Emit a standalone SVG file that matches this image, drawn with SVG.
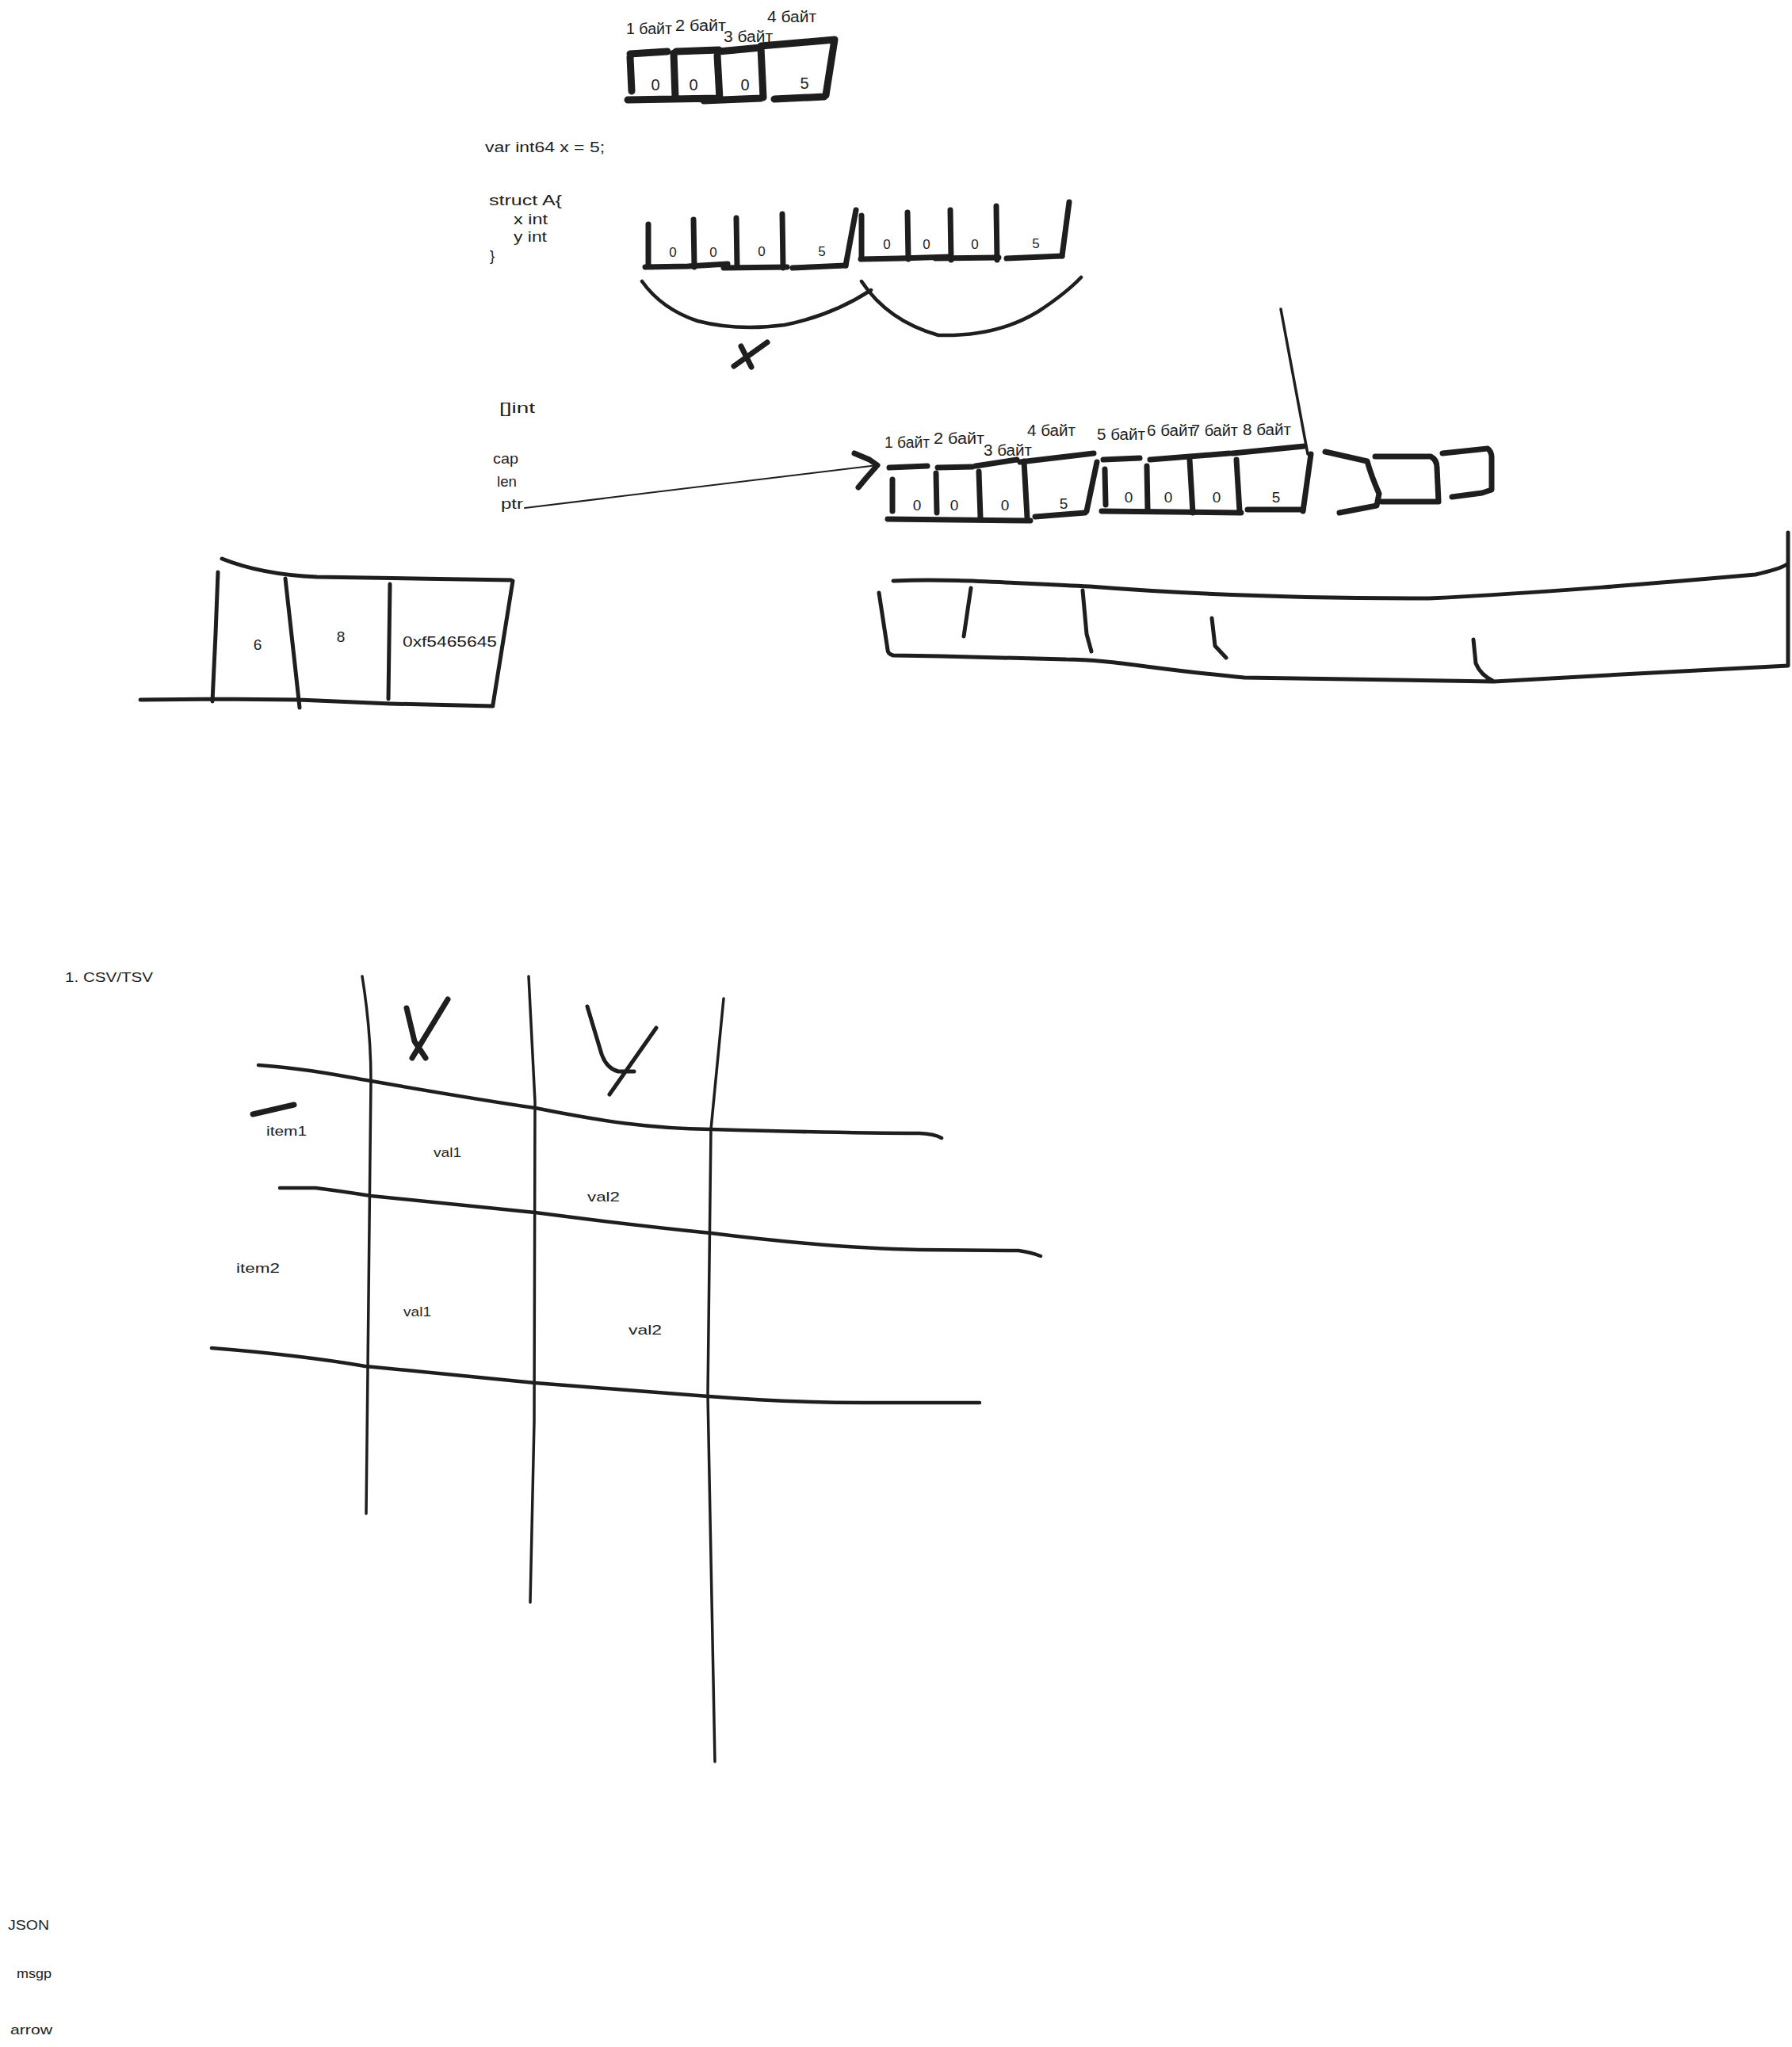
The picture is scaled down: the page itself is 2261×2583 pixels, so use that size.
<svg xmlns="http://www.w3.org/2000/svg" width="2261" height="2583" viewBox="0 0 2261 2583">
<style>
.s{fill:none;stroke:#1e1e1e;stroke-linecap:round;stroke-linejoin:round}
.w8{stroke-width:9}
.w7{stroke-width:7}
.w5{stroke-width:5}
.w4{stroke-width:4.5}
.w3{stroke-width:3.5}
.w2{stroke-width:2}
text{font-family:"Liberation Sans","DejaVu Sans",sans-serif;fill:#1e1e1e}
.lb{font-size:20px}
.cd{font-size:19px}
.n1{font-size:20px;text-anchor:middle}
.n2{font-size:17px;text-anchor:middle}
.n3{font-size:19px;text-anchor:middle}
.g{font-size:17px}
</style>
<rect width="2261" height="2583" fill="#ffffff"/>

<g id="row1-bytes">
<path class="s w8" d="M795,72 L797,115 M795,68 L842,65 M792,126 L848,125 M850,67 L852,123 M853,65 L907,63 M848,125 L907,124 M905,70 L908,125 M907,65 L960,60 M888,127 L960,124 M960,60 L963,123 M960,58 L1053,50 M1053,50 L1042,120 M977,125 L1040,122"/>
<text class="n1" x="827" y="114">0</text>
<text class="n1" x="875" y="114">0</text>
<text class="n1" x="940" y="114">0</text>
<text class="n1" x="1015" y="112">5</text>
<text class="lb" x="790" y="43" textLength="58" lengthAdjust="spacingAndGlyphs">1 байт</text>
<text class="lb" x="852" y="39" textLength="64" lengthAdjust="spacingAndGlyphs">2 байт</text>
<text class="lb" x="913" y="53" textLength="62" lengthAdjust="spacingAndGlyphs">3 байт</text>
<text class="lb" x="968" y="28" textLength="62" lengthAdjust="spacingAndGlyphs">4 байт</text>
</g>

<g id="code">
<text class="cd" x="612" y="192" textLength="151" lengthAdjust="spacingAndGlyphs">var int64 x = 5;</text>
<text class="cd" x="617" y="259" textLength="92" lengthAdjust="spacingAndGlyphs">struct A{</text>
<text class="cd" x="648" y="283" textLength="43" lengthAdjust="spacingAndGlyphs">x int</text>
<text class="cd" x="648" y="305" textLength="42" lengthAdjust="spacingAndGlyphs">y int</text>
<text class="cd" x="618" y="329">}</text>
</g>

<g id="row2-struct">
<path class="s w7" d="M818,283 L818,335 M875,277 L876,337 M929,275 L930,337 M987,270 L988,338 M1080,265 L1067,335 M1087,272 L1087,325 M1145,268 L1146,327 M1199,265 L1200,328 M1257,260 L1258,328 M1349,255 L1340,323"/>
<path class="s w7" d="M814,337 L868,336 L918,333 M913,338 L993,337 M1000,338 L1067,335 M1086,327 L1136,326 L1199,324 M1180,326 L1260,325 M1270,326 L1340,323"/>
<text class="n2" x="849" y="324">0</text>
<text class="n2" x="900" y="324">0</text>
<text class="n2" x="961" y="323">0</text>
<text class="n2" x="1037" y="323">5</text>
<text class="n2" x="1119" y="314">0</text>
<text class="n2" x="1169" y="314">0</text>
<text class="n2" x="1230" y="314">0</text>
<text class="n2" x="1307" y="313">5</text>
</g>

<g id="braces">
<path class="s w4" d="M810,355 Q835,390 880,405 Q930,418 990,410 Q1050,398 1099,366"/>
<path class="s w4" d="M1087,355 Q1120,405 1184,423 Q1258,425 1310,393 Q1345,370 1364,350"/>
<path class="s w7" d="M935,437 L948,463 M926,462 L968,432"/>
</g>

<g id="slice-header">
<text class="cd" x="630" y="521" textLength="45" lengthAdjust="spacingAndGlyphs">[]int</text>
<text class="cd" x="622" y="585" textLength="32" lengthAdjust="spacingAndGlyphs">cap</text>
<text class="cd" x="627" y="614" textLength="25" lengthAdjust="spacingAndGlyphs">len</text>
<text class="cd" x="632" y="642" textLength="28" lengthAdjust="spacingAndGlyphs">ptr</text>
</g>

<g id="row3-array">
<path class="s w7" d="M1122,590 L1170,588 M1183,590 L1227,589 M1231,588 L1283,580 M1287,583 L1380,572 M1392,580 L1438,578 M1451,580 L1551,572 M1555,572 L1646,563"/>
<path class="s w7" d="M1126,605 L1126,645 M1181,597 L1182,647 M1235,595 L1237,653 M1292,582 L1296,653 M1384,583 L1371,645 M1394,592 L1395,637 M1447,588 L1448,643 M1501,580 L1505,647 M1560,580 L1564,645 M1654,573 L1644,645"/>
<path class="s w7" d="M1120,655 L1300,657 M1306,652 L1369,647 M1390,645 L1566,647 M1574,643 L1644,643"/>
<text class="n3" x="1157" y="644">0</text>
<text class="n3" x="1204" y="644">0</text>
<text class="n3" x="1268" y="644">0</text>
<text class="n3" x="1342" y="642">5</text>
<text class="n3" x="1424" y="634">0</text>
<text class="n3" x="1474" y="634">0</text>
<text class="n3" x="1535" y="634">0</text>
<text class="n3" x="1610" y="634">5</text>
<text class="lb" x="1116" y="565" textLength="57" lengthAdjust="spacingAndGlyphs">1 байт</text>
<text class="lb" x="1178" y="560" textLength="64" lengthAdjust="spacingAndGlyphs">2 байт</text>
<text class="lb" x="1241" y="575" textLength="61" lengthAdjust="spacingAndGlyphs">3 байт</text>
<text class="lb" x="1296" y="550" textLength="61" lengthAdjust="spacingAndGlyphs">4 байт</text>
<text class="lb" x="1384" y="555" textLength="61" lengthAdjust="spacingAndGlyphs">5 байт</text>
<text class="lb" x="1447" y="550" textLength="61" lengthAdjust="spacingAndGlyphs">6 байт</text>
<text class="lb" x="1503" y="550" textLength="59" lengthAdjust="spacingAndGlyphs">7 байт</text>
<text class="lb" x="1568" y="549" textLength="61" lengthAdjust="spacingAndGlyphs">8 байт</text>
</g>

<g id="row3-extra">
<path class="s w7" d="M1672,570 L1725,582 Q1730,600 1740,623 L1737,638 L1690,647"/>
<path class="s w7" d="M1735,576 L1805,576 Q1813,580 1813,590 L1815,633 L1743,633"/>
<path class="s w7" d="M1820,572 L1877,566 Q1882,570 1882,577 L1882,618 L1870,622 L1832,627"/>
</g>

<g id="connectors">
<path class="s w2" d="M662,641 L1107,587"/>
<path class="s w7" d="M1078,572 L1097,580 L1107,587 L1093,603 L1083,615"/>
<path class="s w3" d="M1616,390 L1650,573"/>
</g>

<g id="header-box">
<path class="s w5" d="M280,705 Q330,725 400,728 L645,732 M647,733 L622,889 M177,883 L270,882 L377,883 L493,888 L622,891 M275,722 L272,800 L268,885 M360,730 L373,847 L378,893 M492,737 L490,882"/>
<text class="cd" x="325" y="820" text-anchor="middle">6</text>
<text class="cd" x="430" y="810" text-anchor="middle">8</text>
<text class="cd" x="508" y="816" textLength="119" lengthAdjust="spacingAndGlyphs">0xf5465645</text>
</g>

<g id="big-array">
<path class="s w5" d="M1127,733 C1200,730 1260,735 1375,740 C1500,750 1650,755 1803,755 C1950,748 2100,735 2215,725 Q2245,718 2253,713 M2256,672 L2256,840 L2065,850 L1885,860 L1570,855 C1460,845 1400,832 1345,832 L1187,828 L1127,827 Q1120,825 1120,820 L1109,748 M1225,742 L1216,803 M1366,745 L1371,800 L1377,822 M1529,780 L1533,815 L1547,830 M1859,807 L1862,837 Q1868,852 1885,860"/>
</g>

<g id="csv-table">
<text class="g" x="82" y="1239" textLength="111" lengthAdjust="spacingAndGlyphs">1. CSV/TSV</text>
<path class="s w3" d="M457,1232 Q468,1300 468,1364 L462,1910 M667,1232 L675,1390 L674,1794 L669,2022 M913,1260 L897,1425 L893,1760 L902,2223"/>
<path class="s w4" d="M326,1344 C400,1350 430,1358 468,1364 C560,1380 620,1390 675,1398 C760,1415 820,1424 897,1425 C1000,1428 1100,1430 1160,1430 Q1180,1431 1188,1436 M353,1499 L398,1499 Q430,1503 468,1509 L675,1530 Q790,1545 897,1556 Q1050,1575 1160,1577 L1285,1578 Q1300,1580 1313,1585 M267,1701 Q380,1710 461,1724 L675,1745 Q800,1755 894,1762 Q1000,1770 1091,1770 L1236,1770"/>
<path class="s w7" d="M513,1272 L523,1314 L537,1335 M565,1261 L520,1335 M319,1406 L371,1394"/>
<path class="s w5" d="M741,1270 L759,1330 Q765,1348 780,1352 L800,1352 M828,1297 L769,1381"/>
<text class="g" x="336" y="1433" textLength="51" lengthAdjust="spacingAndGlyphs">item1</text>
<text class="g" x="547" y="1460" textLength="35" lengthAdjust="spacingAndGlyphs">val1</text>
<text class="g" x="741" y="1516" textLength="41" lengthAdjust="spacingAndGlyphs">val2</text>
<text class="g" x="298" y="1606" textLength="55" lengthAdjust="spacingAndGlyphs">item2</text>
<text class="g" x="509" y="1661" textLength="35" lengthAdjust="spacingAndGlyphs">val1</text>
<text class="g" x="793" y="1684" textLength="42" lengthAdjust="spacingAndGlyphs">val2</text>
</g>

<g id="formats">
<text class="g" x="10" y="2435" textLength="52" lengthAdjust="spacingAndGlyphs">JSON</text>
<text class="g" x="21" y="2496" textLength="44" lengthAdjust="spacingAndGlyphs">msgp</text>
<text class="g" x="13" y="2567" textLength="53" lengthAdjust="spacingAndGlyphs">arrow</text>
</g>
</svg>
